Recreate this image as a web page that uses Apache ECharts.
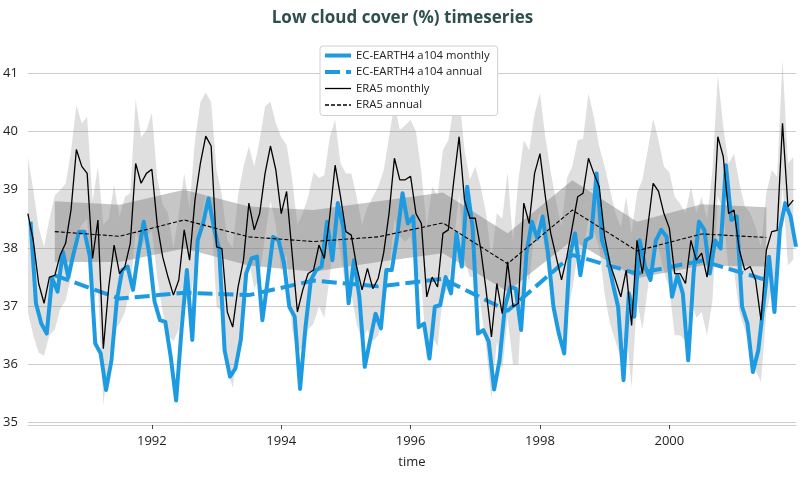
<!DOCTYPE html>
<html>
<head>
<meta charset="utf-8">
<script src="https://cdn.jsdelivr.net/npm/echarts@6/dist/echarts.min.js"></script>
<style>html,body{margin:0;padding:0;background:#fff}#chart{width:805px;height:478px}</style>
</head>
<body>
<div id="chart"></div>
<script>
// ---- data ----
const years = [1990,1991,1992,1993,1994,1995,1996,1997,1998,1999,2000,2001];
const xTicks = [1992,1994,1996,1998,2000];
const yTicks = [35,36,37,38,39,40,41];

// monthly values, Feb 1990 .. Dec 2001
const era5Monthly = [
38.59,38.13,37.39,37.05,37.50,37.53,37.88,38.08,38.65,39.69,39.40,39.28,
37.82,38.48,36.27,37.33,38.05,37.56,37.68,38.08,39.45,39.11,39.28,39.35,
38.40,37.85,37.50,37.19,37.45,38.31,37.79,38.82,39.45,39.92,39.75,38.02,
37.99,36.90,36.64,37.33,37.79,38.77,38.31,38.59,39.28,39.75,39.34,38.59,
38.97,37.93,36.90,37.28,37.56,37.62,38.05,37.82,38.54,39.42,38.88,38.28,
38.22,37.68,37.28,37.65,37.30,37.48,37.91,38.59,39.54,39.17,39.17,39.23,
38.59,38.42,37.16,37.50,37.33,38.25,38.31,39.14,39.91,38.82,38.51,38.51,
37.99,37.28,36.47,37.39,36.87,37.76,36.99,37.05,38.77,38.42,39.28,39.62,
38.88,38.25,37.85,37.45,37.85,38.36,38.88,38.94,39.54,39.28,39.05,38.19,
37.73,37.45,37.16,37.62,36.67,38.13,37.56,38.36,39.11,38.97,38.59,38.34,
37.56,37.56,37.39,38.13,37.79,37.91,37.50,38.13,39.91,39.57,38.59,38.65,
37.96,37.62,37.68,37.45,36.76,37.96,38.28,38.30,40.14,38.71,38.82];

const ecMonthly = [
38.45,37.05,36.70,36.53,37.48,37.25,37.93,37.50,37.91,38.28,38.28,37.85,
36.36,36.19,35.56,36.07,37.10,37.62,37.68,37.28,37.91,38.45,37.91,37.08,
36.76,36.73,36.13,35.38,36.59,37.62,36.42,38.13,38.42,38.85,38.36,37.96,
36.24,35.79,35.93,36.42,37.56,37.82,37.85,36.76,37.45,38.19,38.13,37.75,
36.99,36.82,35.58,36.64,37.45,37.62,37.68,38.45,37.79,38.77,38.36,37.05,
37.79,37.16,35.96,36.42,36.87,36.62,37.62,37.62,38.19,38.94,38.42,38.54,
36.64,36.70,36.10,36.99,37.02,37.50,37.22,38.25,37.68,39.05,38.36,36.53,
36.59,36.39,35.57,36.07,36.99,37.33,37.30,36.59,37.91,38.45,38.16,38.54,
37.91,36.99,36.53,36.19,37.85,38.25,37.53,38.13,38.19,39.28,38.13,37.85,
37.39,36.99,35.73,37.22,36.82,38.13,37.68,37.45,38.13,38.31,38.19,37.16,
37.53,37.22,36.07,37.56,38.45,38.31,37.56,38.13,37.99,39.42,38.48,38.54,
36.99,36.70,35.87,36.24,37.05,37.85,36.90,38.31,38.77,38.54,38.02];

const monthlyHigh = [
39.56,39.00,38.35,38.02,38.50,38.90,39.00,39.10,39.65,40.45,40.14,40.25,
38.80,39.39,38.40,38.50,39.08,38.53,38.88,38.94,40.56,39.90,40.02,40.32,
39.20,38.75,38.60,38.00,38.59,39.28,38.70,39.85,40.50,40.67,40.50,39.33,
38.90,38.13,38.00,38.90,39.40,39.74,39.40,39.85,40.43,40.51,40.14,39.90,
39.77,39.20,38.40,38.60,38.88,39.30,39.20,39.25,39.90,40.20,39.45,39.28,
39.28,38.88,38.40,38.70,38.88,39.05,39.33,39.90,40.48,40.03,40.10,40.20,
40.00,39.30,38.36,39.05,38.90,39.68,39.85,40.43,40.66,39.68,39.17,39.40,
39.05,38.60,37.80,38.60,38.50,39.30,38.10,39.17,39.85,39.68,40.30,40.66,
39.90,39.30,38.80,38.36,39.20,39.40,39.85,39.88,40.65,40.25,39.74,39.40,
39.00,38.60,38.36,38.88,38.25,38.94,39.17,39.68,40.22,39.85,39.40,39.30,
38.88,38.76,38.60,39.05,38.60,38.88,38.48,39.34,40.97,40.08,39.45,39.62,
39.11,38.71,38.60,38.36,38.02,38.94,39.34,39.22,41.23,39.45,39.56];

const monthlyLow = [
36.90,36.50,36.20,36.15,36.50,36.60,36.95,37.10,37.50,38.20,38.40,38.50,
37.00,37.30,35.30,36.10,36.60,36.70,36.90,37.30,38.30,38.00,38.20,38.30,
37.50,36.90,36.50,36.40,36.60,37.30,36.90,37.80,38.40,38.90,38.60,37.00,
36.90,35.90,35.60,36.30,36.80,37.80,37.30,37.50,38.20,38.80,38.40,37.60,
37.90,36.60,36.20,36.30,36.60,36.70,37.00,36.80,37.50,38.40,37.90,37.30,
37.20,36.70,36.40,36.60,36.40,36.50,36.90,37.60,38.50,38.20,38.10,38.20,
37.60,37.40,36.10,36.50,36.30,37.20,37.30,38.10,38.90,37.80,37.50,37.50,
37.00,36.30,35.40,36.40,35.90,36.80,36.00,36.00,37.80,37.40,38.30,38.60,
37.90,37.20,36.80,36.40,36.80,37.30,37.90,37.90,38.50,38.30,38.00,37.20,
36.70,36.40,36.10,36.60,35.60,37.10,36.60,37.30,38.10,38.00,37.60,37.30,
36.50,36.50,36.40,37.10,36.80,36.90,36.50,37.10,38.90,38.60,37.60,37.60,
36.90,36.60,36.30,35.90,35.70,36.90,37.30,37.30,39.10,37.70,37.80];

// annual values (mid-year)
const era5Annual = [38.28,38.20,38.48,38.19,38.11,38.19,38.43,37.73,38.65,37.95,38.24,38.18];
const ecAnnual   = [37.53,37.13,37.23,37.19,37.44,37.34,37.47,36.92,37.88,37.56,37.78,37.45];
const annualHigh = [38.80,38.74,39.00,38.71,38.65,38.80,38.95,38.25,39.16,38.45,38.75,38.70];
const annualLow  = [37.76,37.76,37.99,37.70,37.59,37.76,37.91,37.25,38.13,37.48,37.70,37.68];

// ---- build ----
const FONT = 'Open Sans';
const BLUE = '#1E9BE0';
const nM = era5Monthly.length;
const tEra = [], tEc = [];
for (let k = 0; k < nM; k++) { tEra.push(1990 + (k + 1) / 12); tEc.push(1990 + (k + 1.5) / 12); }
const tYr = years.map(y => y + 0.5);

const pair = (t, v) => v.map((y, i) => [t[i], y]);

function bandSeries(name, t, lo, hi, fill, z) {
  return {
    name: name, type: 'custom', silent: true, z: z,
    data: t.map((x, i) => [x, lo[i], hi[i]]),
    encode: {x: 0, y: [1, 2]},
    renderItem: function (params, api) {
      if (params.dataIndex !== 0) return null;
      const pts = [];
      for (let i = 0; i < t.length; i++) pts.push(api.coord([t[i], hi[i]]));
      for (let i = t.length - 1; i >= 0; i--) pts.push(api.coord([t[i], lo[i]]));
      const cs = params.coordSys;
      return {
        type: 'polygon', shape: {points: pts},
        style: {fill: fill, stroke: null},
        clipPath: {type: 'rect', shape: {x: cs.x, y: cs.y, width: cs.width, height: cs.height}}
      };
    }
  };
}

const chart = echarts.init(document.getElementById('chart'), null, {renderer: 'canvas'});
chart.setOption({
  animation: false,
  backgroundColor: '#ffffff',
  textStyle: {fontFamily: FONT},
  title: {
    text: 'Low cloud cover (%) timeseries', left: 'center', top: 10, padding: 0,
    textStyle: {fontFamily: FONT, fontSize: 17, fontWeight: 'bold', color: '#2F4F4F'}
  },
  grid: {left: 20, right: 9, top: 40, bottom: 53, containLabel: false},
  legend: {
    data: [
      {name: 'EC-EARTH4 a104 monthly', lineStyle: {width: 4}},
      {name: 'EC-EARTH4 a104 annual', lineStyle: {width: 4}},
      {name: 'ERA5 monthly', lineStyle: {width: 1.3}},
      {name: 'ERA5 annual', lineStyle: {width: 1.3}}
    ],
    z: 20,
    orient: 'vertical', left: 320, top: 46,
    itemWidth: 26, itemHeight: 13, itemGap: 5.5,
    padding: [4, 8, 5, 3],
    backgroundColor: '#ffffff', borderColor: '#d0d0d0', borderWidth: 1, borderRadius: 3,
    textStyle: {fontFamily: FONT, fontSize: 11.3, color: '#222'},
    itemStyle: {opacity: 0},
    selectedMode: false
  },
  xAxis: {
    type: 'value', min: 1990 + 1 / 12, max: 1990 + 143.5 / 12,
    name: 'time', nameLocation: 'middle', nameGap: 31,
    nameTextStyle: {fontFamily: FONT, fontSize: 13, color: '#222'},
    axisLine: {show: true, lineStyle: {color: '#d0d0d0', width: 1}},
    axisTick: {show: true, customValues: xTicks, length: 4, lineStyle: {color: '#444'}},
    axisLabel: {customValues: xTicks, formatter: v => String(Math.round(v)), margin: 10,
                fontFamily: FONT, fontSize: 13, color: '#222'},
    splitLine: {show: false}
  },
  yAxis: {
    type: 'value', min: 34.96, max: 41.57,
    axisLine: {show: false}, axisTick: {show: false}, splitLine: {show: false},
    axisLabel: {customValues: yTicks, margin: 10, fontFamily: FONT, fontSize: 13, color: '#222'}
  },
  series: [
    {
      name: 'grid', type: 'line', data: [], silent: true, z: 0,
      markLine: {silent: true, symbol: 'none', label: {show: false}, z: 0,
        lineStyle: {color: '#cccccc', width: 1, type: 'solid'},
        data: yTicks.map(v => ({yAxis: v}))}
    },
    bandSeries('monthly range', tEra, monthlyLow, monthlyHigh, 'rgba(128,128,128,0.25)', 1),
    bandSeries('annual range', tYr, annualLow, annualHigh, 'rgba(128,128,128,0.45)', 2),
    {name: 'EC-EARTH4 a104 monthly', type: 'line', data: pair(tEc, ecMonthly), symbol: 'none',
     itemStyle: {color: BLUE}, lineStyle: {color: BLUE, width: 4, join: 'round', cap: 'butt'}, z: 3},
    {name: 'EC-EARTH4 a104 annual', type: 'line', data: pair(tYr, ecAnnual), symbol: 'none',
     itemStyle: {color: BLUE}, lineStyle: {color: BLUE, width: 4, type: [15, 6]}, z: 4},
    {name: 'ERA5 monthly', type: 'line', data: pair(tEra, era5Monthly), symbol: 'none',
     itemStyle: {color: '#000'}, lineStyle: {color: '#000', width: 1.3}, z: 5},
    {name: 'ERA5 annual', type: 'line', data: pair(tYr, era5Annual), symbol: 'none',
     itemStyle: {color: '#000'}, lineStyle: {color: '#000', width: 1.1, type: [4, 2]}, z: 6}
  ]
});
</script>
</body>
</html>
